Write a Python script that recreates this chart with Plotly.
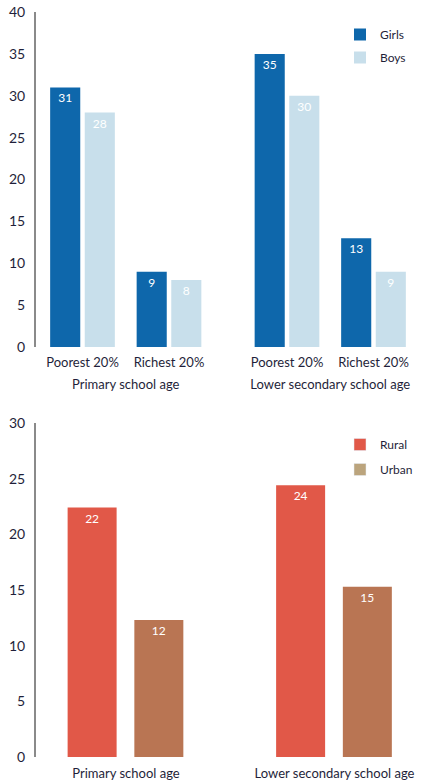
import plotly.graph_objects as go

# ---- data ----
top_groups = ["Primary school age", "Lower secondary school age"]
top_categories = ["Poorest 20%", "Richest 20%"]
girls_primary = [31, 9]
boys_primary = [28, 8]
girls_lower = [35, 13]
boys_lower = [30, 9]

bottom_categories = ["Primary school age", "Lower secondary school age"]
rural = [22.4, 24.4]
urban = [12.3, 15.3]

top_ticks = [0, 5, 10, 15, 20, 25, 30, 35, 40]
bottom_ticks = [0, 5, 10, 15, 20, 25, 30]

# ---- style ----
C_GIRLS = "#0e67ab"
C_BOYS = "#c8dfeb"
C_RURAL = "#e15848"
C_URBAN = "#b97553"
C_URBAN_LEG = "#bba47d"
FONT = "Lato"
TXT = "#1f1f3a"
W, H = 443, 780

fig = go.Figure()

def bar(x, y, color, name, xa, ya, legend, showlegend, group, **kw):
    return go.Bar(
        x=x, y=y, name=name, marker=dict(color=color, line=dict(width=0)),
        xaxis=xa, yaxis=ya, legend=legend, showlegend=showlegend,
        legendgroup=group,
        text=[f"{v:.0f}" for v in y], texttemplate="%{text}",
        textposition="inside", insidetextanchor="end",
        textfont=dict(color="white", size=12, family=FONT),
        hoverinfo="skip", **kw,
    )

fig.add_trace(bar(top_categories, girls_primary, C_GIRLS, "Girls", "x", "y", "legend", True, "g"))
fig.add_trace(bar(top_categories, boys_primary, C_BOYS, "Boys", "x", "y", "legend", True, "b"))
fig.add_trace(bar(top_categories, girls_lower, C_GIRLS, "Girls", "x2", "y", "legend", False, "g"))
fig.add_trace(bar(top_categories, boys_lower, C_BOYS, "Boys", "x2", "y", "legend", False, "b"))

# lower chart: explicit bar width/offset (category units)
BW = 0.235
fig.add_trace(bar(bottom_categories, rural, C_RURAL, "Rural", "x3", "y3", "legend2", False, "r",
                  width=BW, offset=-0.28))
fig.add_trace(bar(bottom_categories, urban, C_URBAN, "Urban", "x3", "y3", "legend2", False, "u",
                  width=BW, offset=0.04))
# legend swatches for the lower chart
for nm, col, g in [("Rural", C_RURAL, "r"), ("Urban", C_URBAN_LEG, "u")]:
    fig.add_trace(go.Bar(x=[None], y=[None], name=nm, marker=dict(color=col),
                         xaxis="x4", yaxis="y4", legend="legend2", showlegend=True,
                         legendgroup=g, hoverinfo="skip"))

def py(px):
    return 1 - px / H

tickfont = dict(family=FONT, size=14, color=TXT)
catfont = dict(family=FONT, size=13, color=TXT)

fig.update_layout(
    width=W, height=H, margin=dict(l=0, r=0, t=0, b=0, autoexpand=False),
    paper_bgcolor="white", plot_bgcolor="white",
    barmode="group", bargap=0.2, bargroupgap=0.13,
    font=dict(family=FONT, color=TXT),
    xaxis=dict(domain=[39.25 / W, 212.25 / W], anchor="y", showgrid=False, showline=False,
               ticks="", tickfont=catfont, ticklabelstandoff=6, automargin=False,
               title=dict(text=top_groups[0], font=catfont, standoff=10)),
    xaxis2=dict(domain=[243.75 / W, 416.75 / W], anchor="y", showgrid=False, showline=False,
                ticks="", tickfont=catfont, ticklabelstandoff=6, automargin=False,
                title=dict(text=top_groups[1], font=catfont, standoff=10)),
    yaxis=dict(domain=[py(347), py(12)], range=[0, 40], anchor="free", position=35 / W,
               tickvals=top_ticks, showgrid=False, zeroline=False, showline=True,
               linecolor="#8a8a8a", linewidth=2, ticks="", tickfont=tickfont,
               ticklabelstandoff=6, automargin=False),
    xaxis3=dict(domain=[21.75 / W, 438.75 / W], anchor="y3", showgrid=False, showline=False,
                ticks="", tickfont=catfont, ticklabelstandoff=7, automargin=False),
    yaxis3=dict(domain=[py(757), py(423)], range=[0, 30], anchor="free", position=35 / W,
                tickvals=bottom_ticks, showgrid=False, zeroline=False, showline=True,
                linecolor="#8a8a8a", linewidth=2, ticks="", tickfont=tickfont,
                ticklabelstandoff=6, automargin=False),
    xaxis4=dict(domain=[0, 0.01], anchor="y4", visible=False),
    yaxis4=dict(domain=[0, 0.01], anchor="x4", visible=False),
    legend=dict(x=340 / W, y=py(20), xanchor="left", yanchor="top", itemwidth=30,
                font=dict(family=FONT, size=12, color=TXT), tracegroupgap=4,
                bgcolor="rgba(0,0,0,0)"),
    legend2=dict(x=340 / W, y=py(430), xanchor="left", yanchor="top", itemwidth=30,
                 font=dict(family=FONT, size=12, color=TXT), tracegroupgap=6,
                 bgcolor="rgba(0,0,0,0)"),
)

fig.write_html("out.html")
